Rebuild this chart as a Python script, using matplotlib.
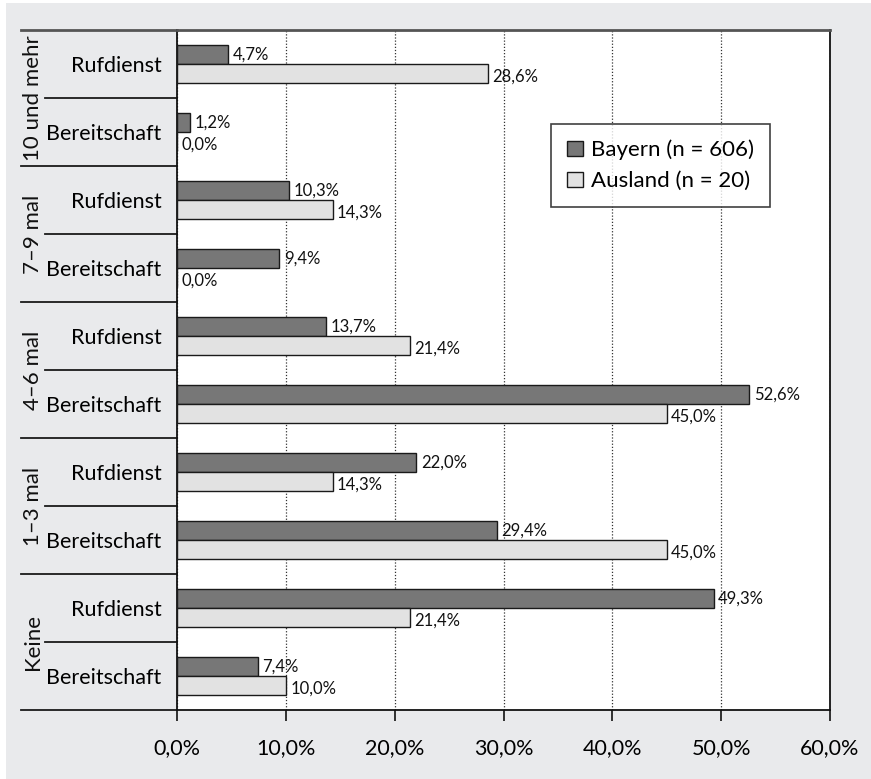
import numpy as np
import matplotlib.pyplot as plt
from matplotlib.patches import Rectangle
from matplotlib.lines import Line2D
import matplotlib.transforms as mtransforms

plt.rcParams['font.family'] = ['Lato', 'DejaVu Sans']

# Daten (von oben nach unten)
gruppen = ['10 und mehr', '7–9 mal', '4–6 mal', '1–3 mal', 'Keine']
zeilen = ['Rufdienst', 'Bereitschaft'] * 5
bayern = [4.7, 1.2, 10.3, 9.4, 13.7, 52.6, 22.0, 29.4, 49.3, 7.4]
ausland = [28.6, 0.0, 14.3, 0.0, 21.4, 45.0, 14.3, 45.0, 21.4, 10.0]
serien = ['Bayern (n = 606)', 'Ausland (n = 20)']

W, H = 871, 779
fig = plt.figure(figsize=(W / 100, H / 100), dpi=100, facecolor='white')
fig.patches.append(Rectangle((6 / W, 0), 1, 1 - 3 / H, transform=fig.transFigure,
                             facecolor='#e9eaec', edgecolor='none', zorder=-10))

l, r, t, b = 177, 830, 30, 710
ax = fig.add_axes([l / W, 1 - b / H, (r - l) / W, (b - t) / H])
ax.set_facecolor('white')

y = np.arange(len(zeilen))
h = 0.28
ax.barh(y - h / 2, bayern, height=h, color='#777777', edgecolor='#1a1a1a', lw=1, label=serien[0], zorder=3)
ax.barh(y + h / 2, ausland, height=h, color='#e2e2e2', edgecolor='#1a1a1a', lw=1, label=serien[1], zorder=3)

def fmt(v):
    return f'{v:.1f}%'.replace('.', ',')

for yi, v in zip(y, bayern):
    ax.text(v + 0.4, yi - h / 2, fmt(v), va='center', ha='left', fontsize=12, color='#111111')
for yi, v in zip(y, ausland):
    ax.text(v + 0.4, yi + h / 2 + 0.04, fmt(v), va='center', ha='left', fontsize=12, color='#111111')

ax.set_xlim(0, 60)
ax.set_ylim(len(zeilen) - 0.5, -0.5)
ax.set_xticks(np.arange(0, 61, 10))
ax.set_xticklabels([fmt(v) for v in np.arange(0, 61, 10)], fontsize=15.5)
ax.tick_params(axis='x', length=8, width=1.2, pad=12, color='#111111')
ax.set_yticks(y)
ax.set_yticklabels(zeilen, fontsize=15.5)
ax.tick_params(axis='y', length=0, pad=11)

ax.grid(axis='x', linestyle=(0, (1, 1.5)), color='#333333', lw=0.9, zorder=1)
for s in ['left', 'right', 'bottom']:
    ax.spines[s].set_color('#111111')
    ax.spines[s].set_linewidth(1.3)
ax.spines['top'].set_color('#555555')
ax.spines['top'].set_linewidth(2)

# Trennlinien im Beschriftungsbereich
trans = mtransforms.blended_transform_factory(ax.transAxes, ax.transData)
x_gruppe = (21 - l) / (r - l)
x_zeile = (45 - l) / (r - l)
for k, yy in enumerate(np.arange(-0.5, len(zeilen), 1.0)):
    x0 = x_gruppe if k % 2 == 0 else x_zeile
    if k == 0:
        ax.add_line(Line2D([x0, 0], [yy, yy], transform=trans, color='#555555', lw=2, clip_on=False))
    else:
        ax.add_line(Line2D([x0, 0], [yy, yy], transform=trans, color='#1a1a1a', lw=1.3, clip_on=False))

for i, g in enumerate(gruppen):
    ax.text((33 - l) / (r - l), 2 * i + 0.5, g, transform=trans, rotation=90,
            ha='center', va='center', fontsize=16, color='#111111')

leg = ax.legend(loc='upper right', bbox_to_anchor=((770 - l) / (r - l), (b - 124) / (b - t)),
                fontsize=16, frameon=True, fancybox=False, handlelength=0.7, handleheight=0.7,
                handletextpad=0.4, borderpad=0.7, labelspacing=0.5, borderaxespad=0)
leg.get_frame().set_edgecolor('#111111')
leg.get_frame().set_linewidth(1.2)

fig.savefig('out.png', dpi=100, facecolor=fig.get_facecolor())
